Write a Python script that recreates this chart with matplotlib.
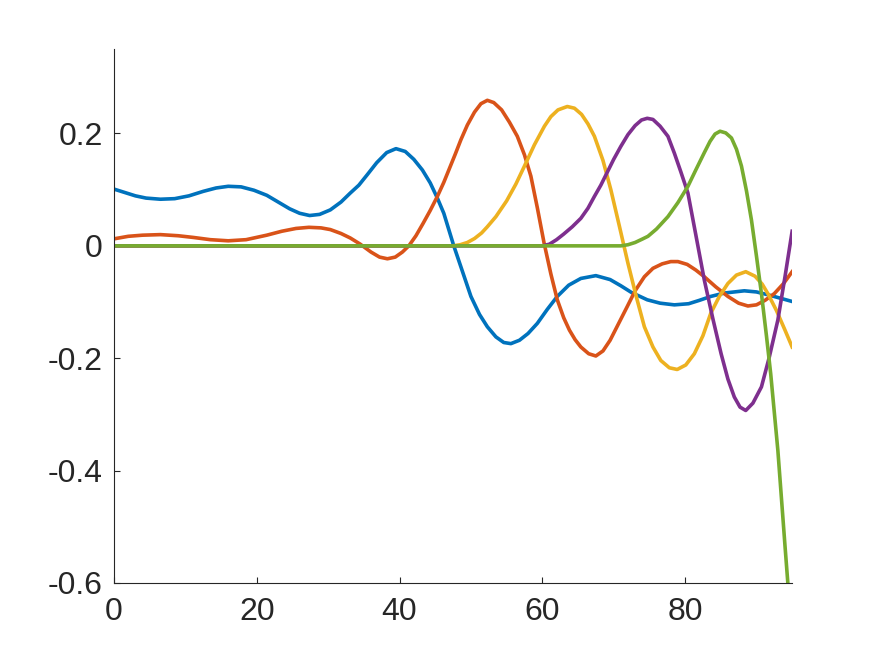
import matplotlib
matplotlib.use("Agg")
from matplotlib import pyplot as plt

# series
blue_x = [0, 1.5, 3, 4.5, 6.5, 8.5, 10.5, 12.5, 14.3, 16, 17.8, 19.6, 21.4, 23, 24.6,
          26, 27.4, 28.8, 30.3, 31.8, 33.1, 34.3, 35.5, 36.8, 38.2, 39.5, 40.8, 42.0,
          43.2, 44.3, 45.3, 46.2, 47.6, 48.8, 50.0, 51.2, 52.3, 53.5, 54.6, 55.6, 56.8,
          58, 59.3, 60.7, 62.1, 63.7, 65.4, 67.5, 69.5, 71, 72.5, 74.7, 76.5, 78.5,
          80.5, 82, 83.6, 85.5, 88.3, 90, 91.6, 93.3, 95]
blue_y = [0.101, 0.095, 0.089, 0.085, 0.083, 0.084, 0.089, 0.097, 0.103, 0.106, 0.105,
          0.099, 0.090, 0.078, 0.066, 0.058, 0.054, 0.056, 0.064, 0.078, 0.094, 0.108,
          0.127, 0.148, 0.166, 0.173, 0.168, 0.154, 0.135, 0.112, 0.085, 0.058, 0.0,
          -0.045, -0.09, -0.122, -0.144, -0.162, -0.172, -0.174, -0.168, -0.156, -0.138,
          -0.113, -0.09, -0.07, -0.058, -0.053, -0.060, -0.071, -0.083, -0.096, -0.102,
          -0.105, -0.103, -0.097, -0.09, -0.084, -0.080, -0.082, -0.087, -0.093, -0.099]

orange_x = [0, 2, 4, 6.5, 9, 11.1, 13.5, 16, 18.5, 21.4, 23.5, 25.5, 27.3, 29, 30.3,
            31.8, 33.1, 34.5, 36, 37.2, 38.3, 39.4, 40.4, 41.3, 42.3, 43.3, 44.3, 45.3,
            46.2, 47.0, 47.8, 48.6, 49.5, 50.5, 51.4, 52.3, 53.2, 54.3, 55.4, 56.5,
            57.5, 58.4, 59.3, 60.25, 61.2, 62.1, 63, 63.8, 64.6, 65.4, 66.5, 67.5, 68.5,
            69.5, 70.7, 71.9, 73, 74.3, 75.5, 76.8, 78, 79.0, 80.3, 81.5, 82.7, 84.3,
            86.0, 87.5, 88.8, 90, 91.2, 92.5, 93.8, 95]
orange_y = [0.0125, 0.017, 0.019, 0.020, 0.018, 0.015, 0.011, 0.009, 0.011, 0.019, 0.026,
            0.031, 0.033, 0.032, 0.029, 0.022, 0.014, 0.003, -0.011, -0.020, -0.023,
            -0.020, -0.011, 0.0, 0.018, 0.04, 0.063, 0.088, 0.113, 0.138, 0.163, 0.189,
            0.215, 0.238, 0.253, 0.259, 0.255, 0.242, 0.22, 0.195, 0.162, 0.124, 0.068,
            0.005, -0.05, -0.096, -0.128, -0.150, -0.167, -0.18, -0.192, -0.196, -0.187,
            -0.168, -0.138, -0.108, -0.08, -0.055, -0.04, -0.032, -0.028, -0.028, -0.033,
            -0.043, -0.055, -0.073, -0.09, -0.102, -0.107, -0.105, -0.097, -0.085, -0.067,
            -0.046]

yellow_x = [0, 47.5, 48.5, 49.5, 50.5, 51.5, 52.3, 53.5, 55, 56.3, 57.5, 58.9, 60.3,
            61.2, 62.2, 63.5, 64.5, 65.5, 66.4, 67.3, 68.5, 69.6, 70.8, 72.0, 73.2, 74.3,
            75.5, 76.6, 77.8, 78.9, 80.1, 81.3, 82.5, 83.6, 84.8, 86.0, 87.2, 88.5, 89.8,
            90.8, 91.6, 92.8, 94, 95]
yellow_y = [0, 0, 0.002, 0.006, 0.013, 0.023, 0.034, 0.052, 0.08, 0.11, 0.142, 0.18,
            0.213, 0.230, 0.242, 0.248, 0.245, 0.234, 0.217, 0.195, 0.152, 0.1, 0.035,
            -0.031, -0.092, -0.144, -0.180, -0.204, -0.217, -0.220, -0.212, -0.192, -0.160,
            -0.12, -0.090, -0.067, -0.052, -0.046, -0.054, -0.068, -0.085, -0.115, -0.15,
            -0.18]

purple_x = [0, 60, 61, 62, 63, 64.2, 65.4, 66.4, 67.3, 68.2, 69.1, 70, 71.0, 72, 73,
            73.9, 74.7, 75.5, 76.5, 77.6, 78.5, 79.4, 80.4, 81.5, 82.7, 83.9, 85.05, 86,
            86.9, 87.7, 88.5, 89.5, 90.7, 91.8, 93.0, 94, 95]
purple_y = [0, 0, 0.003, 0.011, 0.021, 0.034, 0.049, 0.067, 0.088, 0.108, 0.131, 0.154,
            0.177, 0.198, 0.214, 0.224, 0.227, 0.225, 0.213, 0.195, 0.165, 0.132, 0.094,
            0.02, -0.061, -0.13, -0.192, -0.237, -0.269, -0.287, -0.293, -0.280, -0.251,
            -0.198, -0.132, -0.055, 0.026]

green_x = [0, 71, 72, 73, 74, 74.8, 76, 77.6, 79, 80.4, 81.5, 82.7, 83.5, 84.2, 84.9,
           85.7, 86.5, 87.2, 87.9, 88.6, 89.3, 90, 90.7, 91.4, 92, 93, 94, 95]
green_y = [0, 0, 0.002, 0.006, 0.012, 0.017, 0.03, 0.052, 0.077, 0.106, 0.135, 0.166,
           0.186, 0.199, 0.204, 0.201, 0.192, 0.172, 0.142, 0.098, 0.046, -0.018, -0.085,
           -0.16, -0.228, -0.364, -0.534, -0.70]

yticks = [-0.6, -0.4, -0.2, 0, 0.2]
ytick_labels = ["-0.6", "-0.4", "-0.2", "0", "0.2"]
xticks = [0, 20, 40, 60, 80]

plt.rcParams['font.family'] = ['Liberation Sans', 'DejaVu Sans']

fig = plt.figure(figsize=(8.75, 6.56), dpi=100)
ax = fig.add_axes([0.1303, 0.1113, 0.775, 0.8137])

lw = 2.6
ax.plot(blue_x, blue_y, color="#0072BD", lw=lw)
ax.plot(orange_x, orange_y, color="#D95319", lw=lw)
ax.plot(yellow_x, yellow_y, color="#EDB120", lw=lw)
ax.plot(purple_x, purple_y, color="#7E2F8E", lw=lw)
ax.plot(green_x, green_y, color="#77AC30", lw=lw)

ax.set_xlim(0, 95)
ax.set_ylim(-0.6, 0.35)
ax.set_xticks(xticks)
ax.set_yticks(yticks)
ax.set_yticklabels(ytick_labels)

for s in ["top", "right"]:
    ax.spines[s].set_visible(False)
for s in ["left", "bottom"]:
    ax.spines[s].set_color("#262626")
    ax.spines[s].set_linewidth(0.8)

ax.tick_params(direction="in", length=4.5, width=0.8, color="#262626",
               labelcolor="#262626", labelsize=23)
ax.tick_params(axis="y", pad=8)
ax.tick_params(axis="x", pad=10)

fig.savefig("out.png", dpi=100)
